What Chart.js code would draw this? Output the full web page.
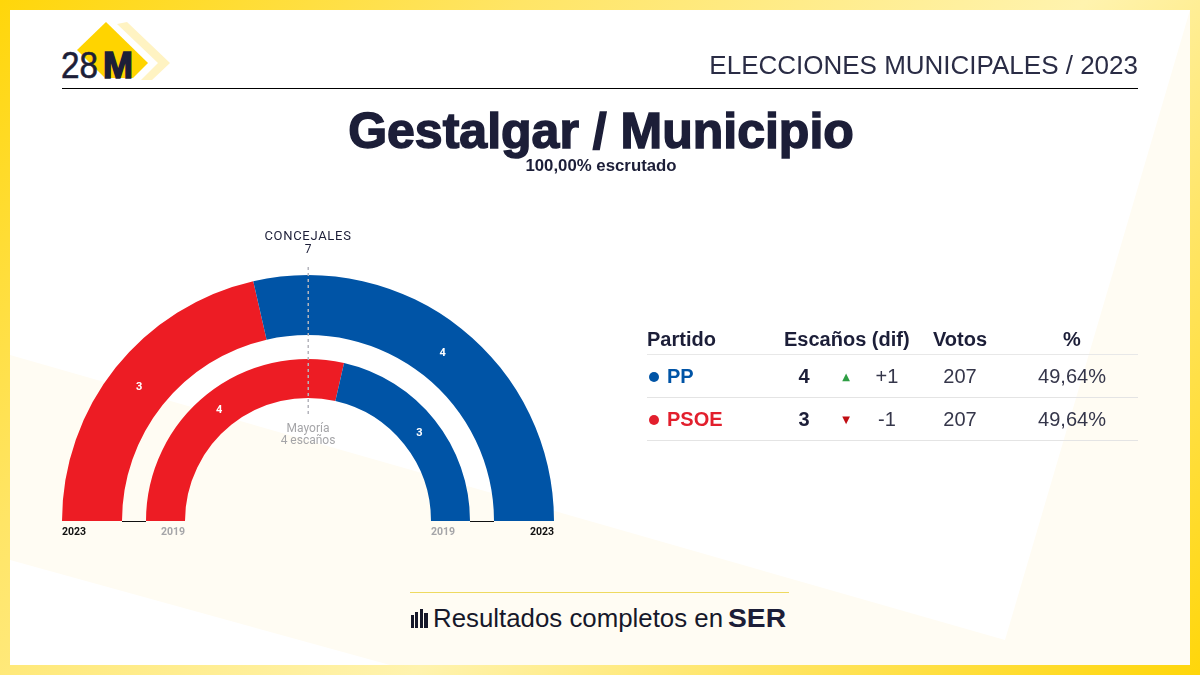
<!DOCTYPE html>
<html lang="es">
<head>
<meta charset="utf-8">
<title>Gestalgar / Municipio</title>
<script src="https://cdn.jsdelivr.net/npm/chart.js@4"></script>
<style>
html, body { margin: 0; padding: 0; }
body { width: 1200px; height: 675px; overflow: hidden; position: relative; font-family: "Liberation Sans", Arial, sans-serif; color: #1c1e38;
	background: linear-gradient(135deg, #ffd60a 0%, #ffe566 28%, #fff3ae 58%, #ffe566 76%, #ffd60a 100%); }
#bg, #mycanvas, #head, #title, #sub, #resultados { position: absolute; }
#bg { left: 0; top: 0; }
#mycanvas { left: 0; top: 0; }
#head { right: 62px; top: 50px; font-size: 26px; line-height: 30px; color: #2a2c45; }
#title { left: 0; width: 1202px; top: 102px; text-align: center; font-size: 50px; line-height: 58px; font-weight: bold; -webkit-text-stroke: 1.5px #1c1e38; }
#sub { left: 0; width: 1202px; top: 156px; text-align: center; font-size: 16.8px; line-height: 20px; font-weight: bold; }
#resultados { left: 647px; top: 325px; width: 491px; border-collapse: collapse; table-layout: fixed; }
#resultados th { font-size: 20px; font-weight: bold; height: 29px; padding: 0; border-bottom: 1px solid #e8e8e8; text-align: center; white-space: nowrap; }
#resultados th.p { text-align: left; }
#resultados td { height: 42px; padding: 0; border-bottom: 1px solid #e4e4e4; text-align: center; font-size: 20px; color: #35364a; }
#resultados td.p { text-align: left; font-weight: bold; }
#resultados td.s { font-weight: bold; color: #1c1e38; }
#resultados td.a { font-size: 10px; font-family: "DejaVu Sans"; }
.dot { display: inline-block; width: 10px; height: 10px; border-radius: 50%; margin-left: 2px; margin-right: 8px; position: relative; top: -1px; }
</style>
</head>
<body>
<svg id="bg" width="1200" height="675" xmlns="http://www.w3.org/2000/svg">
	<rect x="10" y="10" width="1180" height="655" fill="#ffffff"/>
	<polygon points="10,355 1005,640 1190,10 1190,665 390,665 10,560" fill="#fffcf3"/>
	<rect x="62" y="88" width="1076" height="1" fill="#000"/>
	<polygon points="127,22 170,63 152,80 141,80 158,63 117,24" fill="#fff3c2"/>
	<polygon points="106,22 148,63 133,78 105,78 77,50" fill="#ffd400"/>
	<text x="61" y="78" font-size="36" textLength="37" lengthAdjust="spacingAndGlyphs" fill="#1c1e38" stroke="#1c1e38" stroke-width="0.6">28</text>
	<text x="103" y="78" font-size="36" font-weight="bold" textLength="30" lengthAdjust="spacingAndGlyphs" fill="#1c1e38" stroke="#1c1e38" stroke-width="1.5">M</text>
	<rect x="410" y="592" width="379" height="1" fill="#eeda60"/>
	<g fill="#16182a">
		<rect x="411" y="615" width="3" height="13"/>
		<rect x="415" y="612" width="3" height="16"/>
		<rect x="420" y="609" width="3" height="19"/>
		<rect x="424" y="613" width="4" height="15"/>
	</g>
	<text x="433" y="627" font-size="25.5" textLength="290" lengthAdjust="spacingAndGlyphs" fill="#16182a">Resultados completos en</text>
	<text x="728" y="627" font-size="25" font-weight="bold" textLength="58" lengthAdjust="spacingAndGlyphs" fill="#1c1e38">SER</text>
</svg>
<canvas id="mycanvas" width="1200" height="675"></canvas>
<div id="head">ELECCIONES MUNICIPALES / 2023</div>
<div id="title">Gestalgar / Municipio</div>
<div id="sub">100,00% escrutado</div>
<table id="resultados">
	<colgroup>
		<col style="width:137px"><col style="width:40px"><col style="width:44px"><col style="width:38px"><col style="width:108px"><col style="width:116px"><col style="width:8px">
	</colgroup>
	<thead>
		<tr><th class="p">Partido</th><th colspan="3">Escaños (dif)</th><th>Votos</th><th>%</th><th></th></tr>
	</thead>
	<tbody id="filas"></tbody>
</table>
<script>
var partidos = ["PSOE", "PP"];
var colores = ["#ed1c24", "#0054a6"];
var escanos_2023 = [3, 4];
var escanos_2019 = [4, 3];

var tabla_partidos = ["PP", "PSOE"];
var tabla_colores = ["#0054a6", "#e21f2d"];
var tabla_escanos = [4, 3];
var tabla_dif = ["+1", "-1"];
var tabla_votos = [207, 207];
var tabla_pct = ["49,64%", "49,64%"];

var total_concejales = 7;
var mayoria = 4;

// table on the right
var filas = "";
for (var i in tabla_partidos) {
	var sube = tabla_dif[i].charAt(0) == "+";
	filas += "<tr><td class='p' style='color:" + tabla_colores[i] + "'><span class='dot' style='background:" + tabla_colores[i] + "'></span>" + tabla_partidos[i] + "</td>"
		+ "<td class='s'>" + tabla_escanos[i] + "</td>"
		+ "<td class='a' style='color:" + (sube ? "#2e9e44" : "#c00d12") + "'>" + (sube ? "▲" : "▼") + "</td>"
		+ "<td>" + tabla_dif[i] + "</td>"
		+ "<td>" + tabla_votos[i] + "</td>"
		+ "<td>" + tabla_pct[i] + "</td><td></td></tr>";
}
document.getElementById("filas").innerHTML = filas;

// labels, baseline and majority line drawn from the arcs themselves
var hemiciclo = {
	id: "hemiciclo",
	afterDraw: function(chart) {
		var c = chart.ctx;
		var fuera = chart.getDatasetMeta(0).data[0];
		var dentro = chart.getDatasetMeta(2).data[0];
		var cx = fuera.x, cy = fuera.y;

		c.save();
		c.strokeStyle = "#111";
		c.lineWidth = 1;
		c.beginPath();
		c.moveTo(cx - fuera.innerRadius, cy + 0.5); c.lineTo(cx - dentro.outerRadius, cy + 0.5);
		c.moveTo(cx + dentro.outerRadius, cy + 0.5); c.lineTo(cx + fuera.innerRadius, cy + 0.5);
		c.stroke();

		c.strokeStyle = "#b4b4bc";
		c.lineWidth = 1.5;
		c.setLineDash([3, 3]);
		c.beginPath();
		c.moveTo(cx + 0.25, cy - fuera.outerRadius - 8);
		c.lineTo(cx + 0.25, cy - dentro.innerRadius + 19);
		c.stroke();
		c.setLineDash([]);

		c.textBaseline = "middle";
		c.textAlign = "center";
		c.fillStyle = "#fff";
		c.font = "bold 11px Roboto";
		[0, 2].forEach(function(d) {
			chart.getDatasetMeta(d).data.forEach(function(arc, j) {
				var p = arc.getCenterPoint();
				c.fillText(chart.data.datasets[d].data[j], p.x, p.y + 1);
			});
		});

		c.fillStyle = "#1c1e38";
		c.font = "13px Roboto";
		c.letterSpacing = "0.7px";
		c.fillText("CONCEJALES", cx, 236.5);
		c.letterSpacing = "0px";
		c.font = "12px Roboto";
		c.fillText(total_concejales, cx, 249.5);

		c.fillStyle = "#a5a5a8";
		c.fillText("Mayoría", cx, 428.5);
		c.fillText(mayoria + " escaños", cx, 441);

		c.font = "bold 10.5px Roboto";
		c.fillStyle = "#111";
		c.textAlign = "left";
		c.fillText("2023", cx - fuera.outerRadius, cy + 11);
		c.textAlign = "right";
		c.fillText("2023", cx + fuera.outerRadius, cy + 11);
		c.fillStyle = "#a5a5a8";
		c.textAlign = "right";
		c.fillText("2019", cx - dentro.innerRadius, cy + 11);
		c.textAlign = "left";
		c.fillText("2019", cx + dentro.innerRadius, cy + 11);
		c.restore();
	}
};

var chartdata = {
	labels: partidos,
	datasets: [
		{ label: "2023", data: escanos_2023, backgroundColor: colores, borderWidth: 0, weight: 60 },
		{ label: "", data: [1], backgroundColor: "rgba(0,0,0,0)", borderWidth: 0, weight: 24 },
		{ label: "2019", data: escanos_2019, backgroundColor: colores, borderWidth: 0, weight: 39 }
	]
};

var ctx = document.getElementById("mycanvas");
var grafico = new Chart(ctx, {
	type: "doughnut",
	data: chartdata,
	plugins: [hemiciclo],
	options: {
		responsive: false,
		animation: false,
		rotation: -90,
		circumference: 180,
		cutout: "50%",
		layout: { padding: { left: 62, right: 646, top: 275, bottom: 154 } },
		plugins: { legend: { display: false }, tooltip: { enabled: false } }
	}
});
</script>
</body>
</html>
